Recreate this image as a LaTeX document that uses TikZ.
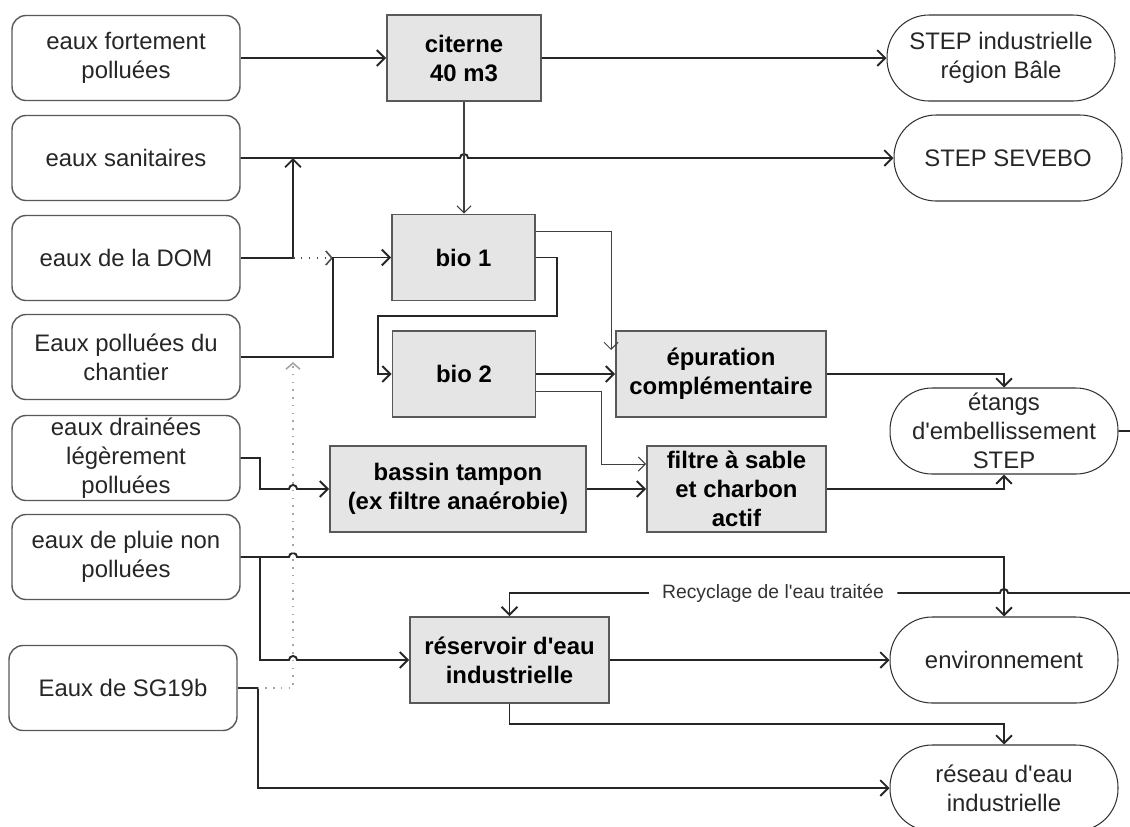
\documentclass[tikz,border=0pt]{standalone}
\usepackage{fontspec}
\setmainfont{Liberation Sans}
\usetikzlibrary{arrows.meta,calc}

\tikzset{
  src/.style={draw=black!65,line width=0.8pt,rounded corners=0.28cm,minimum width=4.56cm,minimum height=1.7cm,
    inner sep=1pt,align=center,text=black!85,font=\fontsize{13.6}{16.5}\selectfont},
  proc/.style={draw=black!65,fill=black!10,line width=1.1pt,minimum height=1.72cm,
    inner sep=1pt,align=center,font=\fontsize{13.6}{16.5}\selectfont\bfseries},
  sink/.style={draw=black!80,line width=0.6pt,rounded corners=0.84cm,minimum width=4.56cm,minimum height=1.72cm,
    inner sep=1pt,align=center,text=black!85,font=\fontsize{13.6}{16.5}\selectfont},
  line/.style={line width=1.1pt,draw=black!85},
  flow/.style={line,-{Straight Barb[length=4.5pt,width=9pt]}},
  thinflow/.style={line width=0.6pt,draw=black!75,-{Straight Barb[length=4pt,width=8pt]}},
  dotblk/.style={line width=0.9pt,draw=black!70,dash pattern=on 0.9pt off 3.6pt,-{Straight Barb[length=3.5pt,width=8pt]}},
  dotgray/.style={line width=0.9pt,draw=black!35,dash pattern=on 0.9pt off 3.5pt,-{Straight Barb[length=3.5pt,width=8pt]}}
}

\begin{document}
\begin{tikzpicture}[x=0.02cm,y=-0.02cm]
\useasboundingbox (0,0) rectangle (1130,826);
\coordinate (bus0) at (260,0);
\coordinate (bus1) at (293,0);
\coordinate (bus2) at (333,0);

% sources
\node[src] (src1) at (126,58) {eaux fortement\\polluées};
\node[src] (src2) at (126,158) {eaux sanitaires};
\node[src] (src3) at (126,258) {eaux de la DOM};
\node[src] (src4) at (126,357) {Eaux polluées du\\chantier};
\node[src] (src5) at (126,458) {eaux drainées\\légèrement\\polluées};
\node[src] (src6) at (126,557) {eaux de pluie non\\polluées};
\node[src] (src7) at (123,688) {Eaux de SG19b};

% traitement
\node[proc,minimum width=3.08cm] (cit) at (464,58) {citerne\\40 m3};
\node[proc,minimum width=2.86cm] (bio1) at (463.5,257.5) {bio 1};
\node[proc,minimum width=2.86cm] (bio2) at (464,374) {bio 2};
\node[proc,minimum width=4.2cm] (epur) at (721,374) {épuration\\complémentaire};
\node[proc,minimum width=5.12cm] (bassin) at (458,489) {bassin tampon\\(ex filtre anaérobie)};
\node[proc,minimum width=3.58cm] (filtre) at (736.5,489) {filtre à sable\\et charbon\\actif};
\node[proc,minimum width=3.98cm] (reserv) at (509.5,660) {réservoir d\textquotesingle eau\\industrielle};

% exutoires
\node[sink] (stepind) at (1001,58) {STEP industrielle\\région Bâle};
\node[sink] (sevebo) at (1008,158) {STEP SEVEBO};
\node[sink] (etangs) at (1004,431) {étangs\\d\textquotesingle embellissement\\STEP};
\node[sink] (env) at (1004,660) {environnement};
\node[sink] (reseau) at (1004,788) {réseau d\textquotesingle eau\\industrielle};
\node[font=\fontsize{11}{13}\selectfont,text=black!80,inner xsep=7.5pt] (recyc) at (773,593) {Recyclage de l\textquotesingle eau traitée};

% liaisons
\draw[flow] (src1) -- (cit);
\draw[flow] (cit) -- (stepind);
\draw[flow] (src2) -- ($(cit.south |- src2)+(-4,0)$) arc[start angle=180,end angle=0,radius=2.3pt] -- (sevebo);
\draw[flow] (src3) -| (bus1 |- src2);
\draw[dotblk] (bus1 |- src3) -- (bus2 |- src3);
\draw[flow] (src4) -| (bus2 |- bio1) -- (bio1);
\draw[thinflow] (cit) -- (cit.south |- bio1.north);
\draw[thinflow] ($(bio1.north east)!0.2!(bio1.south east)$) -| ($(epur.north west)+(-4,20)$);
\draw[flow] (bio1.east) -- ++(21,0) |- ($(bio2.west)+(-14,-58)$) |- (bio2);
\draw[flow] (bio2) -- (epur);
\draw[thinflow] ($(bio2.north east)!0.7!(bio2.south east)$) -- ++(65,0) |- ($(filtre.north west)+(0,19)$);
\draw[flow] (bassin) -- (filtre);
\draw[flow] (epur) -| (etangs);
\draw[flow] (filtre) -| (etangs);
\draw[flow] (src5) -| (bus0 |- bassin) -- ($(bus1 |- bassin)+(-4,0)$) arc[start angle=180,end angle=0,radius=2.3pt] -- (bassin);
\draw[flow] (src6) -- ($(bus1 |- src6)+(-4,0)$) arc[start angle=180,end angle=0,radius=2.3pt] -| (env);
\draw[flow] (bus0 |- src6) |- ($(bus1 |- reserv)+(-4,0)$) arc[start angle=180,end angle=0,radius=2.3pt] -- (reserv);
\draw[flow] (reserv) -- (env);
\draw[flow] (reserv.south) -- ++(0,20) -| (reseau);
\draw[flow] (src7.east) -- ++(20,0) |- (reseau);
\draw[dotgray] ($(src7.east)+(20,0)$) -| ($(bus1 |- src4)+(0,5)$);

% recyclage
\draw[line] (etangs.east) -- ++(40,0) |- ($(env.north |- recyc)+(4,0)$) arc[start angle=0,end angle=180,radius=2.3pt] -- (recyc);
\draw[flow] (recyc) -| (reserv);
\end{tikzpicture}
\end{document}
